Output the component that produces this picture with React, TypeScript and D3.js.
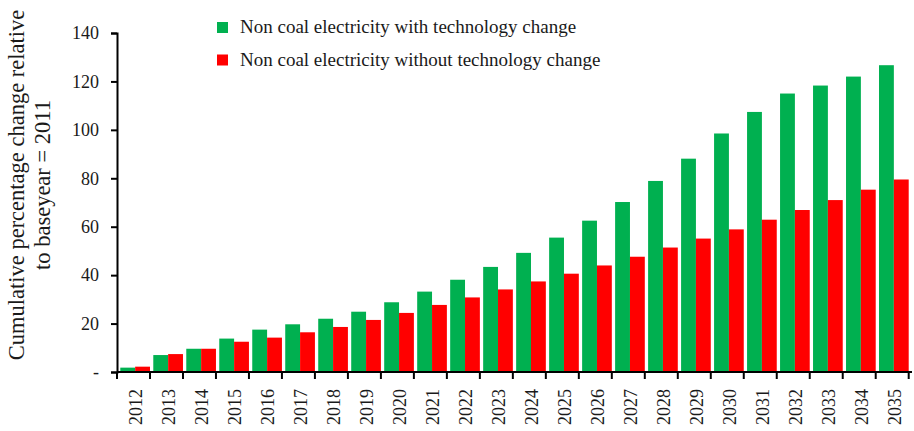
import React, { useRef, useEffect } from "react";
import * as d3 from "d3";

// ── Data ──────────────────────────────────────────────────────────────────────

const YEARS = [
  "2012", "2013", "2014", "2015", "2016", "2017", "2018", "2019",
  "2020", "2021", "2022", "2023", "2024", "2025", "2026", "2027",
  "2028", "2029", "2030", "2031", "2032", "2033", "2034", "2035",
];

const WITH_TECH = [
  1.8, 7.0, 9.6, 13.8, 17.5, 19.7, 22.0, 24.9,
  28.8, 33.2, 38.1, 43.4, 49.2, 55.5, 62.5, 70.2,
  78.9, 88.1, 98.5, 107.4, 115.0, 118.3, 122.0, 126.7,
];

const WITHOUT_TECH = [
  2.2, 7.4, 9.6, 12.5, 14.2, 16.4, 18.6, 21.5,
  24.4, 27.7, 30.8, 34.1, 37.4, 40.6, 44.0, 47.6,
  51.4, 55.1, 58.9, 62.9, 66.9, 71.0, 75.3, 79.5,
];

const Y_TICKS = [0, 20, 40, 60, 80, 100, 120, 140];

const SERIES = [
  { key: "with", label: "Non coal electricity with technology change", color: "#00B050", values: WITH_TECH },
  { key: "without", label: "Non coal electricity without technology change", color: "#FF0000", values: WITHOUT_TECH },
];

// ── Chart ─────────────────────────────────────────────────────────────────────

const WIDTH = 914;
const HEIGHT = 431;
const FONT = "'Liberation Serif', 'Times New Roman', serif";

export default function App() {
  const svgRef = useRef<SVGSVGElement>(null);

  useEffect(() => {
    if (!svgRef.current) return;
    const svg = d3.select(svgRef.current);
    svg.selectAll("*").remove();

    const margin = { top: 33, right: 2, bottom: 59, left: 117 };
    const innerW = WIDTH - margin.left - margin.right;
    const innerH = HEIGHT - margin.top - margin.bottom;

    const g = svg
      .append("g")
      .attr("transform", `translate(${margin.left},${margin.top})`);

    const x0 = d3.scaleBand<string>().domain(YEARS).range([0, innerW]).padding(0.1);
    const x1 = d3
      .scaleBand<string>()
      .domain(SERIES.map((s) => s.key))
      .range([0, x0.bandwidth()]);
    const y = d3.scaleLinear().domain([0, 140]).range([innerH, 0]);

    // Bars
    SERIES.forEach((s) => {
      g.append("g")
        .selectAll("rect")
        .data(s.values)
        .join("rect")
        .attr("x", (_, i) => (x0(YEARS[i]) ?? 0) + (x1(s.key) ?? 0))
        .attr("y", (d) => y(d))
        .attr("width", x1.bandwidth())
        .attr("height", (d) => innerH - y(d))
        .attr("fill", s.color);
    });

    // Y axis
    g.append("g")
      .call(
        d3
          .axisLeft(y)
          .tickValues(Y_TICKS)
          .tickSize(6)
          .tickPadding(12)
          .tickFormat((d) => (Number(d) === 0 ? "-" : String(d)))
      )
      .call((axis) => {
        axis.select(".domain").attr("stroke", "#000").attr("stroke-width", 2);
        axis.selectAll(".tick line").attr("stroke", "#000").attr("stroke-width", 2);
        axis
          .selectAll(".tick text")
          .attr("fill", "#1a1a1a")
          .attr("font-family", FONT)
          .attr("font-size", 18);
      });

    // X axis: line with ticks at category boundaries
    const xAxis = g.append("g").attr("transform", `translate(0,${innerH})`);
    xAxis
      .append("line")
      .attr("x1", 0)
      .attr("x2", innerW)
      .attr("stroke", "#000")
      .attr("stroke-width", 2);
    const step = x0.step();
    const bounds = d3.range(YEARS.length + 1).map((i) => i * step);
    xAxis
      .selectAll("line.tick")
      .data(bounds)
      .join("line")
      .attr("class", "tick")
      .attr("x1", (d) => d)
      .attr("x2", (d) => d)
      .attr("y1", 0)
      .attr("y2", 7)
      .attr("stroke", "#000")
      .attr("stroke-width", 2);
    xAxis
      .selectAll("text")
      .data(YEARS)
      .join("text")
      .attr(
        "transform",
        (d) => `translate(${(x0(d) ?? 0) + x0.bandwidth() / 2 + 1},17) rotate(-90)`
      )
      .attr("text-anchor", "end")
      .attr("dy", "0.35em")
      .attr("fill", "#1a1a1a")
      .attr("font-family", FONT)
      .attr("font-size", 18)
      .text((d) => d);

    // Y axis title
    const title = svg
      .append("text")
      .attr("transform", `translate(24,185) rotate(-90)`)
      .attr("text-anchor", "middle")
      .attr("fill", "#1a1a1a")
      .attr("font-family", FONT)
      .attr("font-size", 22.5);
    title.append("tspan").attr("x", 0).attr("dy", 0).text("Cumulative percentage change relative");
    title.append("tspan").attr("x", 0).attr("dy", 26).text("to baseyear = 2011");

    // Legend
    const legend = svg.append("g").attr("transform", "translate(217,22)");
    SERIES.forEach((s, i) => {
      const row = legend.append("g").attr("transform", `translate(0,${i * 32.5})`);
      row.append("rect").attr("width", 11).attr("height", 11).attr("fill", s.color);
      row
        .append("text")
        .attr("x", 23)
        .attr("y", 11)
        .attr("fill", "#1a1a1a")
        .attr("font-family", FONT)
        .attr("font-size", 19)
        .text(s.label);
    });
  }, []);

  return (
    <svg
      ref={svgRef}
      width={WIDTH}
      height={HEIGHT}
      style={{ position: "absolute", left: 0, top: 0, background: "#fff", display: "block" }}
    />
  );
}
